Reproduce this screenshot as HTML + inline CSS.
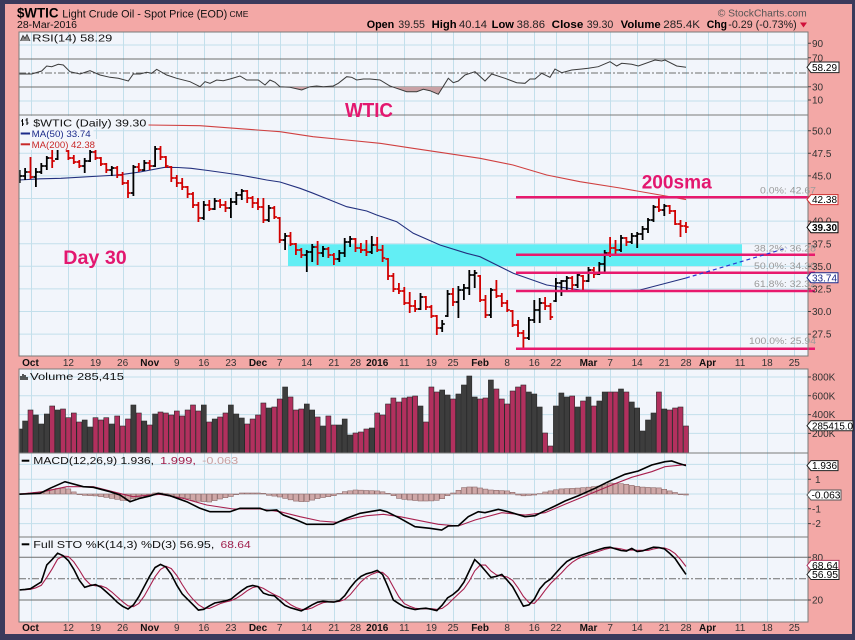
<!DOCTYPE html>
<html><head><meta charset="utf-8"><title>$WTIC chart</title>
<style>
html,body{margin:0;padding:0;background:#3b3a5c;width:855px;height:640px;overflow:hidden}
svg{display:block;font-family:"Liberation Sans",Arial,sans-serif}
</style></head><body>
<svg id="s" xmlns="http://www.w3.org/2000/svg" width="855" height="640" viewBox="0 0 855 640">
<defs>
<clipPath id="rsiclip"><rect x="19" y="87" width="789" height="28"/></clipPath>
<clipPath id="mainclip"><rect x="19" y="115" width="789" height="241"/></clipPath>
<clipPath id="lowclip"><rect x="19" y="369" width="789" height="253"/></clipPath>
<clipPath id="rsipanel"><rect x="19" y="32" width="789" height="83"/></clipPath>
</defs>
<rect width="855" height="640" fill="#3b3a5c"/>
<rect x="5" y="4" width="847" height="630" fill="#f3a8a6"/>
<g fill="#f2f5fb">
<rect x="19" y="32" width="789" height="83"/>
<rect x="19" y="115" width="789" height="241"/>
<rect x="19" y="369" width="789" height="253"/>
</g>
<g id="vg" stroke="#c3dfeb" stroke-width="1" fill="none"></g>
<g stroke="#c3dfeb" stroke-width="1">
<line x1="19" y1="45" x2="808" y2="45"/><line x1="19" y1="101" x2="808" y2="101"/>
<line x1="19" y1="130.7" x2="808" y2="130.7"/><line x1="19" y1="153.3" x2="808" y2="153.3"/>
<line x1="19" y1="175.9" x2="808" y2="175.9"/><line x1="19" y1="198.5" x2="808" y2="198.5"/>
<line x1="19" y1="221.1" x2="808" y2="221.1"/><line x1="19" y1="243.7" x2="808" y2="243.7"/>
<line x1="19" y1="266.3" x2="808" y2="266.3"/><line x1="19" y1="288.9" x2="808" y2="288.9"/>
<line x1="19" y1="311.5" x2="808" y2="311.5"/><line x1="19" y1="334.1" x2="808" y2="334.1"/>
<line x1="19" y1="377" x2="808" y2="377"/><line x1="19" y1="395.8" x2="808" y2="395.8"/>
<line x1="19" y1="414.6" x2="808" y2="414.6"/><line x1="19" y1="433.4" x2="808" y2="433.4"/>
<line x1="19" y1="464.4" x2="808" y2="464.4"/><line x1="19" y1="479.2" x2="808" y2="479.2"/>
<line x1="19" y1="494" x2="808" y2="494"/><line x1="19" y1="508.8" x2="808" y2="508.8"/>
<line x1="19" y1="523.6" x2="808" y2="523.6"/>
</g>
<g stroke="#6e6e6e" stroke-width="1">
<line x1="19" y1="59" x2="808" y2="59"/><line x1="19" y1="87" x2="808" y2="87"/>
<line x1="19" y1="557.3" x2="808" y2="557.3"/><line x1="19" y1="600" x2="808" y2="600"/>
</g>
<g stroke="#6e6e6e" stroke-width="1" stroke-dasharray="7 2 2 2">
<line x1="19" y1="73" x2="808" y2="73"/><line x1="19" y1="578.7" x2="808" y2="578.7"/>
</g>
<!-- cyan zone -->
<rect x="288" y="244.3" width="454" height="21.7" fill="#62eef4"/>
<g id="rsi" clip-path="url(#rsipanel)"></g>
<g id="ma" clip-path="url(#mainclip)" fill="none"></g>
<g id="bars" clip-path="url(#mainclip)" fill="none"></g>
<!-- annotation lines -->
<g stroke="#e8196d" stroke-width="2.5">
<line x1="516" y1="197.3" x2="815" y2="197.3"/>
<line x1="516" y1="254.7" x2="815" y2="254.7"/>
<line x1="516" y1="272.7" x2="815" y2="272.7"/>
<line x1="516" y1="291" x2="815" y2="291"/>
<line x1="516" y1="348.7" x2="815" y2="348.7"/>
</g>
<line x1="686" y1="278" x2="787" y2="248" stroke="#2a3ad0" stroke-width="1.2" stroke-dasharray="4 3"/>
<!-- legend boxes -->
<g fill="#f2f5fb">
<rect x="19.5" y="116" width="129" height="12"/>
<rect x="19.5" y="128" width="74" height="11"/>
<rect x="19.5" y="139" width="78" height="11"/>
</g>
<g id="low" clip-path="url(#lowclip)"></g>
<!-- panel borders -->
<g fill="none" stroke="#7a7a7a" stroke-width="1">
<rect x="19" y="32" width="789" height="83"/>
<rect x="19" y="115" width="789" height="241"/>
<rect x="19" y="369" width="789" height="84"/>
<rect x="19" y="453" width="789" height="84"/>
<rect x="19" y="537" width="789" height="85"/>
</g>

<!-- header -->
<text x="17" y="17.5" font-size="13.5" font-weight="bold" fill="#000" textLength="41.5" lengthAdjust="spacingAndGlyphs">$WTIC</text>
<text x="62.3" y="17.5" font-size="11" fill="#111" textLength="165" lengthAdjust="spacingAndGlyphs">Light Crude Oil - Spot Price (EOD)</text>
<text x="229.5" y="17" font-size="8.5" fill="#111" textLength="19" lengthAdjust="spacingAndGlyphs">CME</text>
<text x="17" y="28" font-size="10" fill="#111" textLength="60" lengthAdjust="spacingAndGlyphs">28-Mar-2016</text>
<text x="717.7" y="16.5" font-size="10.5" fill="#555" textLength="89" lengthAdjust="spacingAndGlyphs">© StockCharts.com</text>
<g font-size="11" fill="#222">
<text x="366.7" y="28" font-weight="bold" fill="#000" textLength="27.6" lengthAdjust="spacingAndGlyphs">Open</text>
<text x="398.3" y="28" textLength="26.7" lengthAdjust="spacingAndGlyphs">39.55</text>
<text x="431.7" y="28" font-weight="bold" fill="#000" textLength="25" lengthAdjust="spacingAndGlyphs">High</text>
<text x="459" y="28" textLength="28" lengthAdjust="spacingAndGlyphs">40.14</text>
<text x="491.7" y="28" font-weight="bold" fill="#000" textLength="22.3" lengthAdjust="spacingAndGlyphs">Low</text>
<text x="516.7" y="28" textLength="28.3" lengthAdjust="spacingAndGlyphs">38.86</text>
<text x="551.7" y="28" font-weight="bold" fill="#000" textLength="31.6" lengthAdjust="spacingAndGlyphs">Close</text>
<text x="586.7" y="28" textLength="26.6" lengthAdjust="spacingAndGlyphs">39.30</text>
<text x="620.7" y="28" font-weight="bold" fill="#000" textLength="40" lengthAdjust="spacingAndGlyphs">Volume</text>
<text x="663.3" y="28" textLength="36.7" lengthAdjust="spacingAndGlyphs">285.4K</text>
<text x="706.7" y="28" font-weight="bold" fill="#000" textLength="20.3" lengthAdjust="spacingAndGlyphs">Chg</text>
<text x="728.3" y="28" textLength="68.4" lengthAdjust="spacingAndGlyphs">-0.29 (-0.73%)</text>
</g>
<polygon points="800,22.5 807,22.5 803.5,27.5" fill="#d0103a"/>

<!-- panel labels -->
<polyline points="20.5,41 23,35.5 25,38.5 27,34.5 30,41" fill="#8a8a8a" stroke="#333" stroke-width="0.8"/>
<text x="32.3" y="41.5" font-size="10.5" fill="#111" textLength="80" lengthAdjust="spacingAndGlyphs">RSI(14) 58.29</text>
<path d="M22.5 119v7M21 121h1.5M22.5 124h1.5M27 118v7M25.5 120h1.5M27 123h1.5" stroke="#000" stroke-width="1" fill="none"/>
<text x="33.3" y="126.5" font-size="10.5" fill="#111" textLength="113" lengthAdjust="spacingAndGlyphs">$WTIC (Daily) 39.30</text>
<line x1="20.7" y1="133.5" x2="30" y2="133.5" stroke="#1c2a8a" stroke-width="2"/>
<text x="31.7" y="137" font-size="9.5" fill="#1c2a8a" textLength="59" lengthAdjust="spacingAndGlyphs">MA(50) 33.74</text>
<line x1="20.7" y1="144.3" x2="30" y2="144.3" stroke="#c82828" stroke-width="2"/>
<text x="31.7" y="148" font-size="9.5" fill="#c82828" textLength="63.3" lengthAdjust="spacingAndGlyphs">MA(200) 42.38</text>
<path d="M21 380v-4M23 380v-6M25 380v-5M27 380v-3" stroke="#222" stroke-width="1.5"/>
<text x="30" y="380" font-size="10.5" fill="#111" textLength="94" lengthAdjust="spacingAndGlyphs">Volume 285,415</text>
<line x1="21.7" y1="460.7" x2="29.3" y2="460.7" stroke="#000" stroke-width="2"/>
<text x="33.3" y="464" font-size="10.5" fill="#111" textLength="120.7" lengthAdjust="spacingAndGlyphs">MACD(12,26,9) 1.936,</text>
<text x="160" y="464" font-size="10.5" fill="#a0204c" textLength="36" lengthAdjust="spacingAndGlyphs">1.999,</text>
<text x="202.2" y="464" font-size="10.5" fill="#c9a0a0" textLength="36" lengthAdjust="spacingAndGlyphs">-0.063</text>
<line x1="21.7" y1="544.3" x2="29.3" y2="544.3" stroke="#000" stroke-width="2"/>
<text x="33.3" y="548" font-size="10.5" fill="#111" textLength="181" lengthAdjust="spacingAndGlyphs">Full STO %K(14,3) %D(3) 56.95,</text>
<text x="220.5" y="548" font-size="10.5" fill="#a0204c" textLength="30.2" lengthAdjust="spacingAndGlyphs">68.64</text>

<!-- annotations -->
<g font-weight="bold" fill="#e3176f">
<text x="345" y="117" font-size="20" textLength="48" lengthAdjust="spacingAndGlyphs">WTIC</text>
<text x="641.7" y="188.3" font-size="19.5" textLength="70" lengthAdjust="spacingAndGlyphs">200sma</text>
<text x="63.3" y="264" font-size="19.5" textLength="63.4" lengthAdjust="spacingAndGlyphs">Day 30</text>
</g>

<!-- fib labels -->
<g font-size="9.5" fill="#9a9a9a">
<text x="760" y="193.3" textLength="56" lengthAdjust="spacingAndGlyphs">0.0%: 42.67</text>
<text x="754" y="251.5" textLength="62" lengthAdjust="spacingAndGlyphs">38.2%: 36.28</text>
<text x="754" y="269" textLength="62" lengthAdjust="spacingAndGlyphs">50.0%: 34.30</text>
<text x="754" y="287" textLength="62" lengthAdjust="spacingAndGlyphs">61.8%: 32.32</text>
<text x="749" y="344" textLength="67" lengthAdjust="spacingAndGlyphs">100.0%: 25.94</text>
</g>

<!-- right axis ticks -->
<path stroke="#444" stroke-width="1" d="M808 43.3h3M808 57.7h3M808 86.7h3M808 100h3M808 130.7h3M808 153.3h3M808 175.9h3M808 221.1h3M808 243.7h3M808 266.3h3M808 288.9h3M808 311.5h3M808 334.1h3M808 377h3M808 395.8h3M808 414.6h3M808 433.4h3M808 479.2h3M808 508.8h3M808 523.6h3M808 557.3h3M808 600h3"/>
<g font-size="10" fill="#333">
<text x="812" y="47">90</text><text x="812" y="61.3">70</text><text x="812" y="90.3">30</text><text x="812" y="103.6">10</text>
<text x="812" y="134.3">50.0</text><text x="812" y="156.9">47.5</text><text x="812" y="179.5">45.0</text>
<text x="812" y="224.7">40.0</text><text x="812" y="247.3">37.5</text><text x="812" y="269.9">35.0</text>
<text x="812" y="292.5">32.5</text><text x="812" y="315.1">30.0</text><text x="812" y="337.7">27.5</text>
<text x="812" y="380.6">800K</text><text x="812" y="399.4">600K</text><text x="812" y="418.2">400K</text><text x="812" y="437">200K</text>
<text x="815" y="482.8">1</text><text x="812" y="512.4">-1</text><text x="812" y="527.2">-2</text>
<text x="812" y="560.9">80</text><text x="812" y="603.6">20</text>
</g>

<!-- value tags -->
<g stroke-width="1" fill="#fff">
<polygon points="807,67.3 811,62 839,62 839,72.6 811,72.6" stroke="#222"/>
<polygon points="807,199.6 811,194.6 838,194.6 838,204.6 811,204.6" stroke="#d03030"/>
<polygon points="807,227.4 811,222 838,222 838,232.8 811,232.8" stroke="#000"/>
<polygon points="807,277.7 811,272.7 838,272.7 838,282.7 811,282.7" stroke="#1c2a8a"/>
<polygon points="807,425.7 811,420.7 853,420.7 853,430.7 811,430.7" stroke="#222"/>
<polygon points="807,465.6 811,460.6 838,460.6 838,470.6 811,470.6" stroke="#222"/>
<polygon points="807,495 811,490 841,490 841,500 811,500" stroke="#555"/>
<polygon points="807,565.4 811,560.4 839,560.4 839,570.4 811,570.4" stroke="#b0305c"/>
<polygon points="807,574.5 811,569.5 839,569.5 839,579.5 811,579.5" stroke="#222"/>
</g>
<g font-size="10" fill="#000">
<text x="812" y="71" textLength="25" lengthAdjust="spacingAndGlyphs">58.29</text>
<text x="812" y="203.2" textLength="25" lengthAdjust="spacingAndGlyphs">42.38</text>
<text x="812" y="231.2" font-weight="bold" textLength="25" lengthAdjust="spacingAndGlyphs">39.30</text>
<text x="812" y="281.3" fill="#1c2a8a" textLength="25" lengthAdjust="spacingAndGlyphs">33.74</text>
<text x="812" y="429.3" textLength="41" lengthAdjust="spacingAndGlyphs">285415.0</text>
<text x="812" y="469.2" textLength="25" lengthAdjust="spacingAndGlyphs">1.936</text>
<text x="811.5" y="498.6" textLength="29" lengthAdjust="spacingAndGlyphs">-0.063</text>
<text x="812" y="569" textLength="26" lengthAdjust="spacingAndGlyphs">68.64</text>
<text x="812" y="578.1" textLength="26" lengthAdjust="spacingAndGlyphs">56.95</text>
</g>

<!-- x axis labels (top row) -->
<g font-size="10" fill="#333" text-anchor="middle">
<text x="30.5" y="366" font-weight="bold" fill="#111">Oct</text>
<text x="68.4" y="366">12</text><text x="95.5" y="366">19</text><text x="122.6" y="366">26</text>
<text x="149.7" y="366" font-weight="bold" fill="#111">Nov</text>
<text x="176.8" y="366">9</text><text x="203.8" y="366">16</text><text x="230.9" y="366">23</text>
<text x="258" y="366" font-weight="bold" fill="#111">Dec</text>
<text x="279.7" y="366">7</text><text x="306.8" y="366">14</text><text x="333.9" y="366">21</text><text x="355.5" y="366">28</text>
<text x="377.2" y="366" font-weight="bold" fill="#111">2016</text>
<text x="404.3" y="366">11</text><text x="431.4" y="366">19</text><text x="453" y="366">25</text>
<text x="480.1" y="366" font-weight="bold" fill="#111">Feb</text>
<text x="507.2" y="366">8</text><text x="534.3" y="366">16</text><text x="555.9" y="366">22</text>
<text x="588.5" y="366" font-weight="bold" fill="#111">Mar</text>
<text x="610.1" y="366">7</text><text x="637.2" y="366">14</text><text x="664.3" y="366">21</text><text x="686" y="366">28</text>
<text x="707.6" y="366" font-weight="bold" fill="#111">Apr</text>
<text x="740.1" y="366">11</text><text x="767.2" y="366">18</text><text x="794.3" y="366">25</text>
</g>
<!-- x axis labels (bottom row) -->
<g font-size="10" fill="#333" text-anchor="middle">
<text x="30.5" y="631" font-weight="bold" fill="#111">Oct</text>
<text x="68.4" y="631">12</text><text x="95.5" y="631">19</text><text x="122.6" y="631">26</text>
<text x="149.7" y="631" font-weight="bold" fill="#111">Nov</text>
<text x="176.8" y="631">9</text><text x="203.8" y="631">16</text><text x="230.9" y="631">23</text>
<text x="258" y="631" font-weight="bold" fill="#111">Dec</text>
<text x="279.7" y="631">7</text><text x="306.8" y="631">14</text><text x="333.9" y="631">21</text><text x="355.5" y="631">28</text>
<text x="377.2" y="631" font-weight="bold" fill="#111">2016</text>
<text x="404.3" y="631">11</text><text x="431.4" y="631">19</text><text x="453" y="631">25</text>
<text x="480.1" y="631" font-weight="bold" fill="#111">Feb</text>
<text x="507.2" y="631">8</text><text x="534.3" y="631">16</text><text x="555.9" y="631">22</text>
<text x="588.5" y="631" font-weight="bold" fill="#111">Mar</text>
<text x="610.1" y="631">7</text><text x="637.2" y="631">14</text><text x="664.3" y="631">21</text><text x="686" y="631">28</text>
<text x="707.6" y="631" font-weight="bold" fill="#111">Apr</text>
<text x="740.1" y="631">11</text><text x="767.2" y="631">18</text><text x="794.3" y="631">25</text>
</g>
</svg>
<script>
(function(){
var NS="http://www.w3.org/2000/svg";
function E(p,t,a){var e=document.createElementNS(NS,t);for(var k in a)e.setAttribute(k,a[k]);p.appendChild(e);return e;}
function X(i){return 30.5+5.417*i;}
function interp(pts,x){if(x<=pts[0][0])return pts[0][1];for(var k=1;k<pts.length;k++){if(x<=pts[k][0]){var a=pts[k-1],b=pts[k];return a[1]+(b[1]-a[1])*(x-a[0])/(b[0]-a[0]);}}return pts[pts.length-1][1];}
function pl(pts){return pts.map(function(p){return p[0].toFixed(1)+','+p[1].toFixed(1);}).join(' ');}

// vertical grid
var LI=[0,7,12,17,22,27,32,37,42,46,51,56,60,64,69,74,78,83,88,93,97,103,107,112,117,121,125,131,136,141];
var d='';
LI.forEach(function(i){var x=(Math.round(X(i))+0.5);d+='M'+x+' 32V356M'+x+' 369V622';});
E(document.getElementById('vg'),'path',{d:d});

// RSI
var R=[[19,74],[31.7,74],[41.7,71],[46.7,66],[51.7,66.7],[58.3,64.3],[63.3,65],[70,71.7],[80,74],[90,70.7],[100,75],[110,77.3],[118.3,78.3],[128.3,81],[133.3,74],[140,74],[146.7,72.3],[151.7,73.3],[156.7,69.3],[166.7,75],[176.7,78.3],[190,81.7],[200,86.7],[205,81.7],[210,83.3],[216.7,80],[223.3,80.7],[230,79],[240,76],[246.7,80],[258.3,80],[265,85],[270,80],[275,82.3],[280,86.7],[290,87.3],[301.7,90],[310,86.7],[316.7,86],[323.3,86.7],[333.3,86],[338.3,83.3],[346.7,76.7],[351.7,77.3],[356.7,80],[363.3,79],[370,79],[380,80],[390,86],[396.7,88.3],[406.7,91.7],[416.7,91.7],[423.3,89.3],[430,90.7],[438.3,94.3],[448.3,78.3],[453.3,82.7],[458.3,81],[465,75],[475,71.7],[485,81],[491.7,74],[505,78.3],[516.7,82.7],[525,83.3],[530,79],[535,79],[541.7,73.3],[550,77.3],[555,69],[561.7,72.7],[571.7,70],[581.7,69],[588.3,68.3],[598.3,66.7],[610,61.7],[616.7,66],[621.7,63.3],[631.7,64.3],[638.3,66],[655,60],[661.7,61],[665,60],[676.7,66],[686,67.3]];
var rg=document.getElementById('rsi');
E(rg,'polygon',{points:pl(R.concat([[686,87],[19,87]])),fill:'#c9a1a4','clip-path':'url(#rsiclip)'});
E(rg,'polyline',{points:pl(R),fill:'none',stroke:'#3a3a3a','stroke-width':'1'});

// MAs
var MA50=[[19,180],[40,178.8],[61,178.3],[118,175],[140,172],[164.7,167.3],[178,167.5],[191,168.3],[208,170.5],[240,175],[266.7,180],[280,182],[300,188.3],[311.7,192.7],[330,200],[346.7,206.7],[366.7,211],[376.7,215],[396.7,221.7],[413.3,233.3],[440,245],[466.7,253.3],[480,256.7],[513.3,273.3],[546.7,285],[580,290],[620,291],[640,290],[686,278]];
var MA200=[[19,122],[100,123.5],[148,125],[200,125.7],[280,131.7],[313,136.7],[346.7,140],[380,143.3],[413,148.3],[446.7,153.3],[480,158.3],[513,165],[546.7,175],[580,181.7],[620,188],[660,195],[686,199.6]];
var mg=document.getElementById('ma');
E(mg,'polyline',{points:pl(MA200),stroke:'#d04040','stroke-width':'1.1'});
E(mg,'polyline',{points:pl(MA50),stroke:'#23307e','stroke-width':'1.1'});

// price bars
var P=[[170,183,176],[168,180,172],[157,179,177],[168,187,172],[163,174,166],[156,170,158],[150,168,161],[138,160,142],[134,150,145],[150,160,158],
[155,164,162],[160,168,166],[158,173,161],[150,162,152],[149,160,158],[157,166,164],[163,173,170],[166,176,168],[166,178,175],[172,185,183],
[180,198,193],[165,196,167],[163,172,170],[160,171,163],[160,170,166],[146,167,149],[146,160,157],[156,168,166],[166,182,178],[175,187,183],
[178,190,187],[186,198,194],[192,208,205],[202,222,218],[201,220,205],[200,211,209],[198,210,201],[199,208,205],[201,212,208],[198,218,202],
[192,205,195],[189,200,191],[190,203,198],[196,208,203],[198,210,207],[198,223,220],[205,222,208],[206,219,217],[217,243,240],[233,250,236],
[232,246,244],[243,255,250],[248,258,255],[250,272,252],[244,262,247],[241,265,253],[246,257,249],[247,258,255],[253,265,259],[250,262,253],
[238,257,242],[236,247,239],[238,252,248],[243,253,250],[240,256,252],[236,254,245],[237,252,250],[245,262,258],[258,280,276],[273,292,289],
[283,294,291],[287,305,303],[292,313,306],[300,312,309],[293,310,297],[296,310,307],[305,318,316],[315,335,328],[320,332,324],[290,317,294],
[288,306,302],[286,318,290],[284,300,288],[270,295,275],[270,288,273],[275,302,300],[295,318,315],[288,318,290],[280,298,296],[293,307,303],
[300,312,310],[310,327,325],[320,337,333],[330,348,338],[317,340,320],[300,323,310],[298,323,303],[297,310,306],[303,320,317],[278,302,283],
[280,296,281],[276,292,278],[276,290,285],[272,288,275],[275,290,281],[267,282,270],[267,278,274],[262,275,264],[250,272,253],[237,257,248],
[240,256,250],[235,252,238],[237,246,242],[233,244,236],[232,248,234],[226,240,229],[218,233,220],[205,222,207],[198,212,210],[204,216,206],
[205,214,211],[210,225,224],[220,237,226],[222,233,227]];
var C="kkrkkkrkrrrr"+"kkrrrkrrrkrk"+"rkrrrrrrrrkr"+"krrkkkrrrrkr"+"rkrrrkkrkrrk"+"kkrrrkrrrrrr"+"rrkr"+"rrkkrkkkkrrk"+"rrrrrrkkkrrk"+"kkrkrkrkkrrk"+"rkkkkkrkrrrr";
var dk='',dr='';
for(var n=0;n<P.length;n++){
 var i=n-2,x=X(i),h=P[n][0],l=P[n][1],c=P[n][2];
 var o=n>0?P[n-1][2]:c; o=Math.min(Math.max(o,h+1),l-1);
 var s='M'+x.toFixed(1)+' '+h+'V'+l+'M'+(x-2.6).toFixed(1)+' '+o+'H'+x.toFixed(1)+'M'+x.toFixed(1)+' '+c+'H'+(x+2.6).toFixed(1);
 if(C[n]==='k')dk+=s;else dr+=s;
}
var bg=document.getElementById('bars');
E(bg,'path',{d:dr,stroke:'#d10000','stroke-width':'1.8'});
E(bg,'path',{d:dk,stroke:'#000','stroke-width':'1.8'});

var low=document.getElementById('low');
// volume
var V=[192,168,135,150,177,147,123,135,132,158,144,171,165,186,158,165,158,177,153,183,162,120,144,168,180,147,141,144,150,138,153,135,120,138,120,171,162,156,144,120,147,159,177,162,150,114,129,126,102,66,96,135,132,117,135,156,183,153,180,180,162,210,204,201,192,189,144,150,117,99,111,99,96,93,123,171,
66,81,75,90,102,87,60,33,96,102,99,45,72,102,117,78,66,60,81,87,126,204,243,123,84,96,93,126,108,96,123,108,81,81,81,72,81,111,129,198,165,144,81,132,135,129,126,183];
for(var n=0;n<V.length;n++){
 var x=X(n-2),t=365+V[n]/3;
 E(low,'rect',{x:(x-2.5).toFixed(1),y:t.toFixed(1),width:'5',height:(453-t).toFixed(1),fill:C[n]==='k'?'#3d3d3d':'#b2305e',stroke:'#2a2a2a','stroke-width':'0.6'});
}
// MACD
var HI=[[18,0],[40,2],[50,4],[60,6],[67,6],[72,3],[80,-1],[97,-2],[110,-4],[120,-6],[127,-7],[133,-5],[145,-2],[155,1],[165,1],[170,-2],[185,-4],[195,-7],[210,-8],[220,-5],[233,-2],[240,1],[260,1],[267,-1],[280,-3],[295,-7],[305,-8],[320,-4],[333,-2],[343,2],[355,4],[380,3],[390,0],[400,-5],[420,-7],[430,-7],[440,-6],[447,-2],[455,2],[465,7],[475,7],[490,4],[510,3],[520,-2],[535,-1],[545,2],[560,5],[580,6],[600,8],[610,11],[625,10],[640,7],[660,6],[670,3],[680,0],[686,-1]];
for(var i=-2;i<=121;i++){
 var x=X(i),h=interp(HI,x);
 if(Math.abs(h)<0.4)h=h<0?-0.6:0.6;
 var y=h>0?494-h:494;
 E(low,'rect',{x:(x-2.4).toFixed(1),y:y.toFixed(1),width:'4.8',height:Math.abs(h).toFixed(1),fill:'#cfa8a8',stroke:'#8e6b6b','stroke-width':'0.6'});
}
var M=[[18,494.3],[40,493.3],[50,488.3],[65,481.7],[83.3,486.7],[93.3,487.3],[110,491.7],[120,495],[130,501.7],[140,498.3],[150,496],[158.3,493.3],[170,495.7],[186.7,501.7],[200,508.3],[210,511.7],[230,511.7],[240,508.3],[260,508.3],[266.7,510.7],[276.7,510],[283.3,515],[296.7,520],[306.7,524.3],[333.3,524.3],[346.7,518.3],[360,513.3],[380,510],[386.7,511.7],[400,518.3],[415,526.7],[430,528.3],[441.7,530],[448.3,526],[458.3,525.7],[468.3,516.7],[478.3,511.7],[485,512.7],[498.3,509.3],[508.3,511.7],[525,516.7],[535,515.7],[545,510.7],[555,506],[565,501],[578.3,495.7],[595,488.3],[608.3,481.7],[625,474.3],[638.3,471],[651.7,465],[665,461.7],[671.7,461],[678.3,463.3],[686,465.6]];
var SG=[[18,494.3],[43,491.7],[66.7,486.7],[93.3,486.7],[116.7,492.7],[133,496.7],[160,494.3],[183,498.3],[206.7,505],[233.3,509],[260,509],[280,511.7],[300,516.7],[320,521],[336.7,522.3],[353.3,518.3],[366.7,515.7],[383.3,514.3],[400,516.7],[425,521.7],[438.3,524.3],[458.3,526],[475,520],[501.7,512.7],[525,515],[545,512.7],[565,504.3],[591.7,493.3],[611.7,485],[631.7,477.3],[651.7,471.7],[665,466.7],[686,464.6]];
E(low,'polyline',{points:pl(SG),fill:'none',stroke:'#a8204e','stroke-width':'1.1'});
E(low,'polyline',{points:pl(M),fill:'none',stroke:'#000','stroke-width':'1.6'});
// STO
var K=[[18,590],[30,589],[41.7,581.7],[46.7,565],[53.3,558.3],[58.3,552.3],[66.7,558.3],[71.7,565],[80,581.7],[85,587.7],[93.3,584.3],[98.3,585],[110,595],[120,605],[130,610],[140,595],[148.3,578.3],[156.7,565],[163.3,564],[170,571.7],[180,591.7],[190,601.7],[200,611.7],[213.3,603.3],[230,600],[240,591.7],[250,585],[258.3,586.7],[265,595],[273.3,595],[286.7,606.7],[301.7,611],[311.7,605],[320,601],[333.3,602.3],[341.7,600],[353.3,583.3],[363.3,574.3],[370,573.3],[376.7,570],[383.3,575],[393.3,600],[403.3,606.7],[416.7,610],[423.3,607.7],[430,609],[438.3,611],[446.7,598.3],[455,593.3],[461.7,586.7],[475,559],[483.3,568.3],[491.7,578.3],[501.7,574.3],[511.7,585],[525,609],[535,598.3],[541.7,585],[551.7,578.3],[558.3,570],[568.3,560],[581.7,555],[595,550.7],[608.3,546.7],[625,551.7],[631.7,548.3],[638.3,552.3],[655,546.7],[665,549],[675,558.3],[686,574.5]];
var ks=[],kd=[];
for(var i=-2;i<=121;i++){ks.push([X(i),interp(K,X(i))]);}
for(var n=0;n<ks.length;n++){var a=ks[Math.max(0,n-2)][1],b=ks[Math.max(0,n-1)][1],c=ks[n][1];kd.push([ks[n][0],(a+b+c)/3]);}
E(low,'polyline',{points:pl(kd),fill:'none',stroke:'#a8204e','stroke-width':'1.1'});
E(low,'polyline',{points:pl(ks),fill:'none',stroke:'#000','stroke-width':'1.6'});
})();
</script>
</body></html>
